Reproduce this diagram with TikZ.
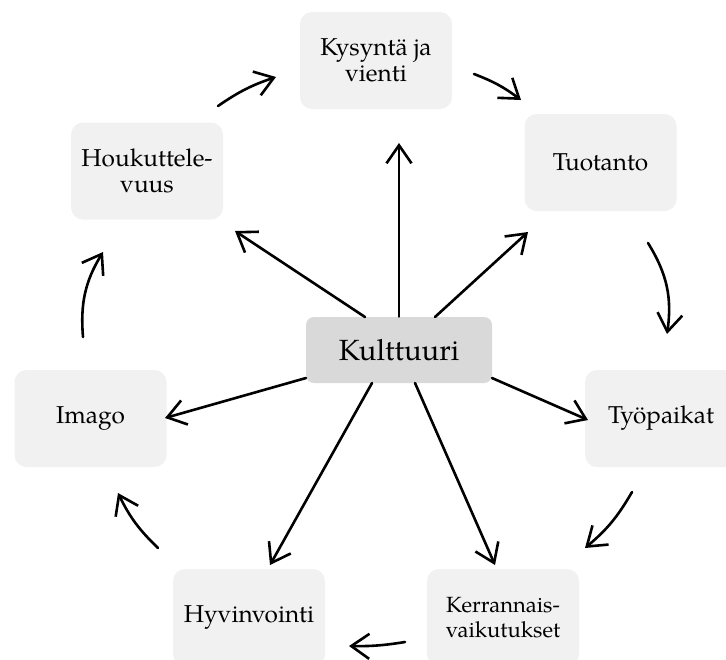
\documentclass[tikz,border=0pt]{standalone}
\usepackage{fontspec}
\setmainfont{TeX Gyre Pagella}
\usetikzlibrary{arrows.meta}
\definecolor{boxfill}{HTML}{F1F1F1}
\definecolor{corefill}{HTML}{D9D9D9}
\begin{document}
\begin{tikzpicture}[x=0.5pt,y=0.5pt,
  box/.style={fill=boxfill, rounded corners=6pt, minimum width=76pt, minimum height=48.5pt,
    inner sep=0pt, align=center, font=\fontsize{12.2}{13.2}\selectfont},
  core/.style={fill=corefill, rounded corners=4pt, minimum width=93pt, minimum height=33pt,
    inner sep=0pt, font=\fontsize{14.6}{17}\selectfont},
  arr/.style={line width=1.3pt, line cap=round,
    -{Straight Barb[length=9pt,width=12.5pt]}}]
\useasboundingbox (0,0) rectangle (726,-659);
\clip (0,0) rectangle (726,-659);

% nodes
\node[box] (kys) at (376,-60.5) {Kysyntä ja\\vienti};
\node[box] (tuo) at (600.5,-162.5) {Tuotanto};
\node[box] (tyo) at (661,-418.5) {Työpaikat};
\node[box, font=\fontsize{11}{12.5}\selectfont] (ker) at (503,-617.5) {Kerrannais-\\vaikutukset};
\node[box] (hyv) at (249,-617.5) {Hyvinvointi};
\node[box] (ima) at (90.5,-418.5) {Imago};
\node[box] (hou) at (147,-171) {Houkuttele-\\vuus};
\node[core] (kul) at (399,-350) {Kulttuuri};

% radial arrow coordinates
\coordinate (s2) at (365,-317);
\coordinate (s3) at (435,-317);
\coordinate (s4) at (306,-378);
\coordinate (s5) at (492,-378);
\coordinate (s6) at (372,-383);
\coordinate (s7) at (415,-383);
\coordinate (e1) at (399,-143);
\coordinate (e2) at (235,-231);
\coordinate (e3) at (528,-232);
\coordinate (e4) at (165,-418);
\coordinate (e5) at (588,-420);
\coordinate (e6) at (270,-565);
\coordinate (e7) at (495,-565);

\draw[arr] (kul.north) -- (e1);
\draw[arr] (s2) -- (e2);
\draw[arr] (s3) -- (e3);
\draw[arr] (s4) -- (e4);
\draw[arr] (s5) -- (e5);
\draw[arr] (s6) -- (e6);
\draw[arr] (s7) -- (e7);

% cycle arrow coordinates
\coordinate (ca1) at (218,-106);  \coordinate (cb1) at (276,-77);
\coordinate (ca2) at (474,-74);   \coordinate (cb2) at (521,-100);
\coordinate (ca3) at (648,-243);  \coordinate (cb3) at (667,-334);
\coordinate (ca4) at (632,-492);  \coordinate (cb4) at (585,-548);
\coordinate (ca5) at (405,-642);  \coordinate (cb5) at (349,-646);
\coordinate (ca6) at (158,-548);  \coordinate (cb6) at (118,-493);
\coordinate (ca7) at (83,-337);   \coordinate (cb7) at (103,-252);

\draw[arr] (ca1) to[bend left=8] (cb1);
\draw[arr] (ca2) to[bend left=8] (cb2);
\draw[arr] (ca3) to[bend left=20] (cb3);
\draw[arr] (ca4) to[bend left=10] (cb4);
\draw[arr] (ca5) to[bend left=5] (cb5);
\draw[arr] (ca6) to[bend left=10] (cb6);
\draw[arr] (ca7) to[bend left=18] (cb7);
\end{tikzpicture}
\end{document}
